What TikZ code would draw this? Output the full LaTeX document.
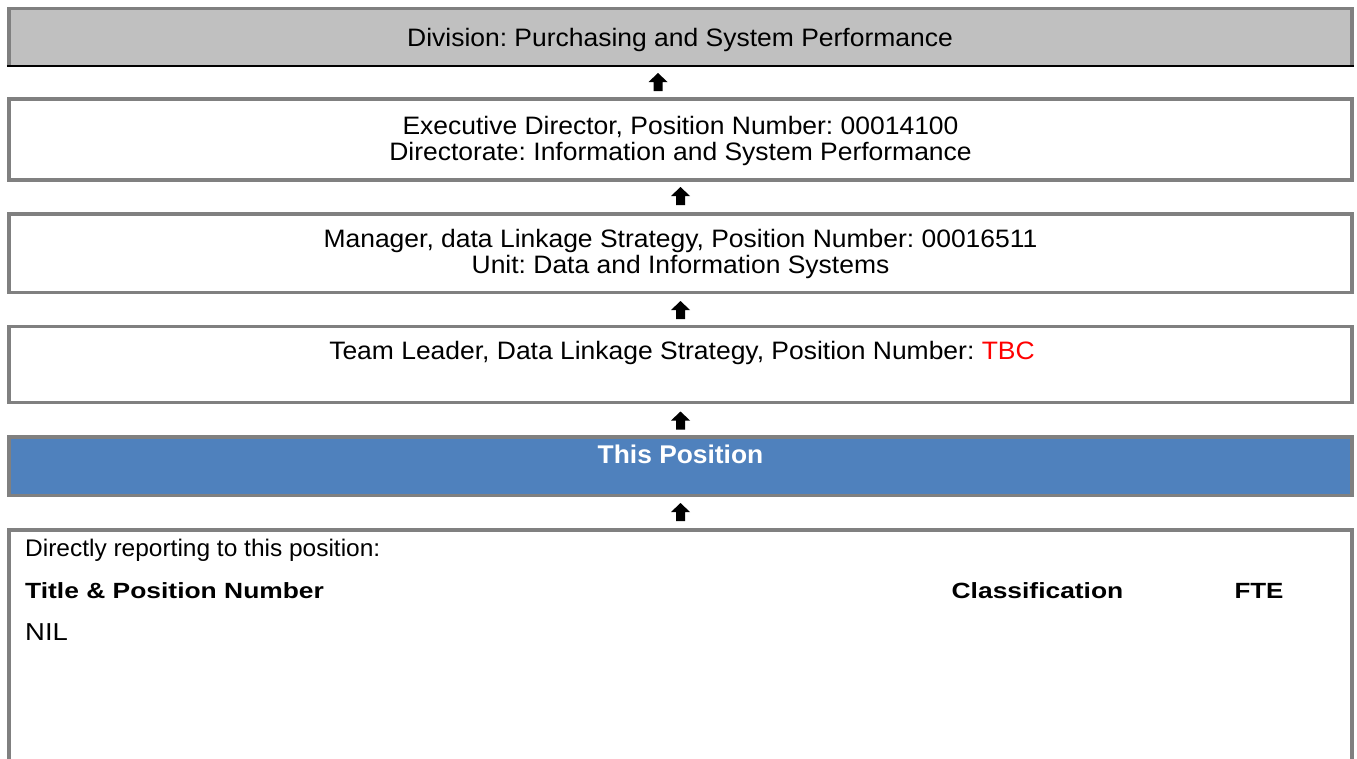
\documentclass[tikz,border=0pt]{standalone}
\usepackage{fontspec}
\usepackage{graphicx}
\setmainfont{Liberation Sans}
\frenchspacing
\definecolor{edgegray}{HTML}{808080}
\definecolor{divfill}{HTML}{C0C0C0}
\definecolor{posblue}{HTML}{4F81BD}
\definecolor{tbcred}{HTML}{FF0000}
% slightly widened text, as in the printed form
\newcommand{\wide}[2]{\scalebox{#1}[1]{#2}}
\begin{document}
\begin{tikzpicture}[x=1pt,y=-1pt,
  frame/.style={draw=edgegray,line width=3.5pt,inner sep=0pt,minimum width=1343pt},
  txt/.style={inner sep=0pt,anchor=base,font=\fontsize{25.2}{28}\selectfont},
  lefttxt/.style={inner sep=0pt,anchor=base west,font=\fontsize{24}{26}\selectfont},
  hdr/.style={inner sep=0pt,font=\fontsize{22}{24}\selectfont\bfseries},
  uparrow/.style={fill=black}]
\useasboundingbox (0,0) rectangle (1357,758);

% division header: grey fill, grey top and sides, black base line
\node[inner sep=0pt,minimum width=1343pt,minimum height=57.5pt,fill=divfill] (div) at (680.5,37.25) {};
\draw[edgegray,line width=3.5pt] (div.south west) |- (div.north east) -- (div.south east);
\draw[black,line width=2.5pt] ([xshift=-2pt]div.south west) -- ([xshift=2pt]div.south east);
\node[txt] (divt) at (680,46.5) {\wide{1.05}{Division: Purchasing and System Performance}};

% reporting chain
\node[frame,minimum height=81pt] (exec) at (680.5,139.5) {};
\node[txt] (exec1) at (680.5,134) {\wide{1.05}{Executive Director, Position Number: 00014100}};
\node[txt] (exec2) at (680.5,160.5) {\wide{1.05}{Directorate: Information and System Performance}};

\node[frame,minimum height=78.5pt] (mgr) at (680.5,253.25) {};
\node[txt] (mgr1) at (680.5,247) {\wide{1.05}{Manager, data Linkage Strategy, Position Number: 00016511}};
\node[txt] (mgr2) at (680.5,273.3) {\wide{1.05}{Unit: Data and Information Systems}};

\node[frame,minimum height=76pt] (lead) at (680.5,364.5) {};
\node[txt] (lead1) at (682,359.3) {\wide{1.05}{Team Leader, Data Linkage Strategy, Position Number: \textcolor{tbcred}{TBC}}};

\node[frame,fill=posblue,minimum height=58.5pt] (pos) at (680.5,466.25) {};
\node[txt,font=\fontsize{25.6}{28}\selectfont\bfseries,text=white] (post) at (680.5,463.3) {\wide{1.03}{This Position}};

% direct reports panel, open at the bottom
\coordinate (repTL) at (9,530);
\coordinate (repTR) at (1352,530);
\coordinate (repBL) at (9,770);
\coordinate (repBR) at (1352,770);
\draw[edgegray,line width=3.5pt] (repBL) -- (repTL) -- (repTR) -- (repBR);
\node[lefttxt] (rep) at (25,556) {\wide{1.02}{Directly reporting to this position:}};
\node[hdr,anchor=base west] (hdtitle) at (25,598.5) {\wide{1.2}{Title \& Position Number}};
\node[hdr,anchor=base] (hdclass) at (1037.5,598.5) {\wide{1.2}{Classification}};
\node[hdr,anchor=base] (hdfte) at (1259,598.5) {\wide{1.18}{FTE}};
\node[lefttxt,font=\fontsize{24.5}{26}\selectfont] (nil) at (25,640.5) {\wide{1.12}{NIL}};

% block arrows between the boxes
\coordinate (a1) at (658,82);
\coordinate (a2) at (680.5,196);
\coordinate (a3) at (680.5,310);
\coordinate (a4) at (680.5,420.5);
\coordinate (a5) at (680.5,512);
\foreach \c in {a1,a2,a3,a4,a5}{
  \fill[uparrow] (\c) ++(0,-9) -- ++(9.5,9) -- ++(-5,0) -- ++(0,9) -- ++(-9,0) -- ++(0,-9) -- ++(-5,0) -- cycle;
}
\end{tikzpicture}
\end{document}
